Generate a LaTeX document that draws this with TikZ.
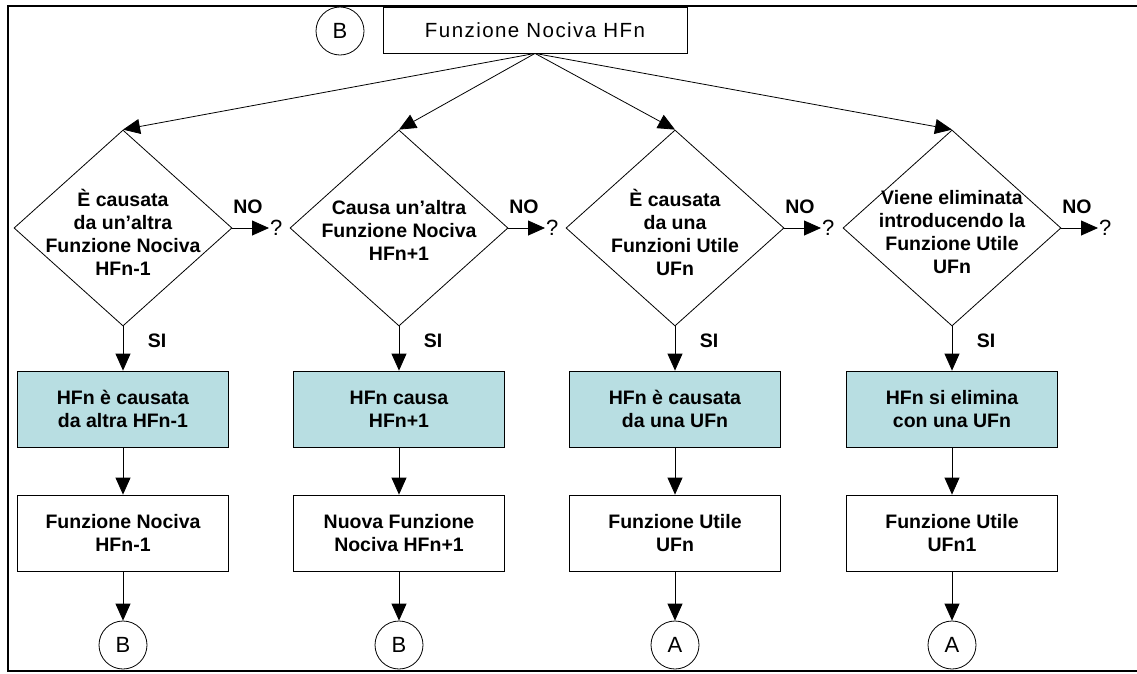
\documentclass[tikz,border=0pt]{standalone}
\usepackage{fontspec}
\setmainfont{Liberation Sans}
\usetikzlibrary{shapes.geometric,arrows.meta}
\definecolor{boxblue}{RGB}{184,222,226}
\begin{document}
\begin{tikzpicture}[x=1pt,y=-1pt,
  base/.style={font=\fontsize{20.5}{24}\selectfont},
  bold/.style={font=\fontsize{19.5}{23}\selectfont\bfseries, align=center},
  decision/.style={draw, line width=0.8pt, diamond, minimum width=218pt, minimum height=196pt, inner sep=0pt},
  dtext/.style={bold, inner sep=0pt},
  stepbox/.style={draw, line width=0.8pt, bold, minimum width=211pt, minimum height=76pt, inner sep=0pt},
  hilite/.style={stepbox, fill=boxblue},
  conn/.style={draw, circle, line width=0.8pt, font=\fontsize{22}{24}\selectfont, minimum size=48pt, inner sep=0pt},
  link/.style={line width=0.8pt, -{Triangle[length=17pt,width=15pt]}},
]
\useasboundingbox (0,0) rectangle (1137,673);

% outer frame (open on the right)
\draw[line width=2pt] (1137,6) -- (8,6) -- (8,671) -- (1137,671);

% heading
\node[conn] (topB) at (340,31) {B};
\node[draw, line width=0.8pt, base, minimum width=304pt, minimum height=46pt, inner sep=0pt]
  (title) at (535,30) {\addfontfeature{LetterSpace=7}Funzione Nociva HFn};

% decisions
\node[decision] (d1) at (123,228) {};
\node[dtext] at (123,232) {È causata\\da un’altra\\Funzione Nociva\\HFn-1};
\node[decision] (d2) at (399,228) {};
\node[dtext] at (399,230) {Causa un’altra\\Funzione Nociva\\HFn+1};
\node[decision] (d3) at (675,228) {};
\node[dtext] at (675,232) {È causata\\da una\\Funzioni Utile\\UFn};
\node[decision] (d4) at (952,228) {};
\node[dtext] at (952,232) {Viene eliminata\\introducendo la\\Funzione Utile\\UFn};

% outcome boxes
\node[hilite] (h1) at (123,409) {HFn è causata\\da altra HFn-1};
\node[hilite] (h2) at (399,409) {HFn causa\\HFn+1};
\node[hilite] (h3) at (675,409) {HFn è causata\\da una UFn};
\node[hilite] (h4) at (952,409) {HFn si elimina\\con una UFn};

\node[stepbox] (f1) at (123,533) {Funzione Nociva\\HFn-1};
\node[stepbox] (f2) at (399,533) {Nuova Funzione\\Nociva HFn+1};
\node[stepbox] (f3) at (675,533) {Funzione Utile\\UFn};
\node[stepbox] (f4) at (952,533) {Funzione Utile\\UFn1};

% off-page connectors
\node[conn] (c1) at (123,645) {B};
\node[conn] (c2) at (399,645) {B};
\node[conn] (c3) at (675,645) {A};
\node[conn] (c4) at (952,645) {A};

% open "NO" exits
\foreach \i/\x in {1/123,2/399,3/675,4/952} {
  \node[font=\fontsize{22}{24}\selectfont, anchor=west, inner sep=1pt] (q\i) at (\x+146,228) {?};
  \node[bold, inner sep=0pt] at (\x+125,207) {NO};
  \node[bold, inner sep=0pt] at (\x+34,341) {SI};
  \draw[link] (title.south) -- (d\i.north);
  \draw[link] (d\i.east) -- (q\i.west);
  \draw[link] (d\i.south) -- (h\i.north);
  \draw[link] (h\i.south) -- (f\i.north);
  \draw[link] (f\i.south) -- (c\i.north);
}
\end{tikzpicture}
\end{document}
